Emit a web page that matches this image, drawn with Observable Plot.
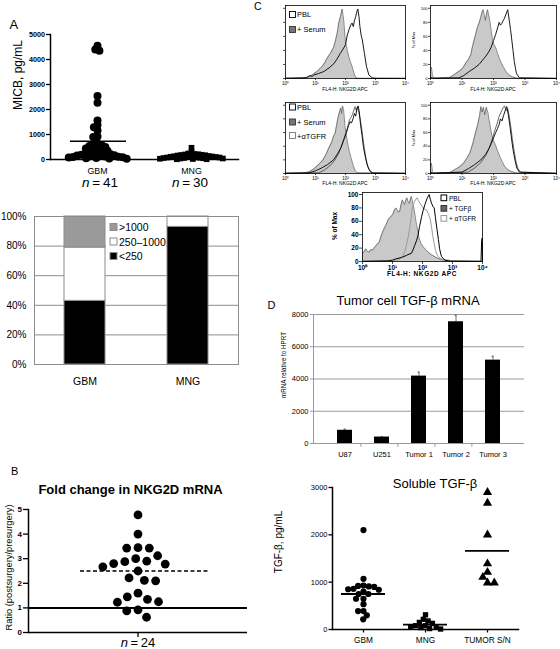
<!DOCTYPE html>
<html><head><meta charset="utf-8">
<script src="https://cdn.jsdelivr.net/npm/d3@7"></script>
<script src="https://cdn.jsdelivr.net/npm/@observablehq/plot@0.6"></script>
<style>
html,body{margin:0;padding:0;background:#fff;}
#fig{position:relative;width:560px;height:649px;overflow:hidden;background:#fff;}
</style></head><body><div id="fig"></div>
<script>
// ---------------- DATA ----------------
// Panel A (top): serum MICB
const micbGroups = ["GBM", "MNG"];
const micbGBM = [4548, 4400, 4348, 2540, 2274, 1556, 1383, 1290, 1157, 920, 900, 640, 610, 580, 540, 500, 470, 440, 410, 380, 350, 320, 290, 270, 230, 220, 200, 190, 170, 160, 150, 130, 120, 110, 100, 90, 80, 60, 50, 40, 30];
const micbMNG = [470, 300, 240, 220, 210, 200, 190, 180, 170, 160, 150, 140, 130, 120, 110, 100, 100, 90, 80, 80, 70, 60, 60, 50, 40, 40, 30, 20, 10, 10];
const micbMeans = [730, 130];
const micbTicks = [0, 1000, 2000, 3000, 4000, 5000];
const micbN = ["41", "30"];

// Panel A (bottom): stacked percentages
const stackGroups = ["GBM", "MNG"];
const stackCats = ["<250", "250\u20131000", ">1000"];
const stackGBM = [43, 36, 21];
const stackMNG = [93, 7, 0];
const stackTicks = [0, 20, 40, 60, 80, 100];

// Panel B: fold change ratios
const ratioValues = [4.78, 4.0, 3.45, 3.43, 3.43, 3.12, 3.0, 2.9, 2.88, 2.8, 2.78, 2.67, 2.5, 2.22, 2.12, 2.1, 1.6, 1.45, 1.35, 1.25, 1.23, 0.92, 0.88, 0.62];
const ratioMean = 2.5;
const ratioRef = 1;
const ratioTicks = [0, 1, 2, 3, 4, 5];

// Panel C: flow histograms, [log10 NKG2D, % of max]
const c1Serum = [[0,0.5],[0.6,0.8],[0.75,2],[0.85,4],[0.95,7],[1.05,10],[1.15,14],[1.22,17],[1.3,22],[1.39,29],[1.45,33],[1.5,36],[1.56,41],[1.61,45],[1.67,55],[1.72,64],[1.78,80],[1.83,88],[1.89,99],[1.94,83],[2.0,50],[2.03,47],[2.06,40],[2.11,31],[2.17,23],[2.22,17],[2.28,8],[2.33,2],[2.4,0.3],[4,0]];
const c1PBL = [[0,0.3],[0.7,1],[0.8,4],[0.9,3],[0.94,5],[1.1,7],[1.28,10],[1.45,15],[1.61,21],[1.72,28],[1.83,36],[1.92,42],[2.0,48],[2.06,62],[2.12,70],[2.17,76],[2.22,79],[2.26,74],[2.3,83],[2.34,88],[2.37,94],[2.41,99],[2.45,88],[2.48,74],[2.52,62],[2.56,55],[2.63,36],[2.7,17],[2.78,5],[2.89,1],[3.0,0.3],[4,0.3]];
const c2Serum = [[0,14],[0.03,16],[0.06,4],[0.1,0.5],[0.59,1],[0.7,4],[0.8,7],[0.96,12],[1.04,16],[1.12,22],[1.2,27],[1.28,34],[1.33,45],[1.38,54],[1.44,64],[1.49,73],[1.55,80],[1.6,88],[1.64,95],[1.67,98],[1.71,90],[1.74,83],[1.78,92],[1.81,98],[1.85,90],[1.88,83],[1.92,70],[1.97,54],[2.02,48],[2.07,44],[2.12,37],[2.18,29],[2.24,23],[2.31,17],[2.38,11],[2.45,7],[2.53,4],[2.61,2],[2.77,0.3],[4,0]];
const c2PBL = [[0,2],[0.05,0.5],[0.9,1],[1.05,4],[1.23,10],[1.4,15],[1.54,20],[1.65,26],[1.76,32],[1.85,38],[1.92,44],[2.0,54],[2.07,63],[2.13,72],[2.18,80],[2.22,76],[2.26,78],[2.3,82],[2.34,85],[2.4,92],[2.45,98],[2.5,83],[2.54,70],[2.57,59],[2.62,40],[2.66,24],[2.7,14],[2.73,7],[2.82,1],[4,0.3]];
const c3Serum = [[0,0.5],[0.6,0.8],[0.75,2],[0.85,4],[0.95,7],[1.05,11],[1.15,15],[1.25,20],[1.35,28],[1.45,38],[1.55,47],[1.6,55],[1.65,58],[1.7,70],[1.75,82],[1.8,90],[1.84,96],[1.87,88],[1.9,99],[1.94,92],[1.98,70],[2.03,55],[2.08,42],[2.13,32],[2.19,22],[2.25,13],[2.31,5],[2.38,1],[4,0]];
const c3PBL = [[0,0.3],[0.8,1],[1.0,4],[1.2,8],[1.4,13],[1.6,20],[1.75,30],[1.85,38],[1.95,50],[2.03,60],[2.1,70],[2.15,76],[2.2,74],[2.25,80],[2.3,88],[2.34,84],[2.38,95],[2.42,99],[2.46,90],[2.5,72],[2.55,56],[2.6,38],[2.67,22],[2.74,10],[2.82,3],[2.92,0.5],[4,0.3]];
const c3TGFR = [[0,0.3],[1.1,1],[1.3,5],[1.5,12],[1.65,20],[1.78,30],[1.88,42],[1.98,55],[2.06,66],[2.13,78],[2.18,82],[2.23,86],[2.28,93],[2.32,98],[2.36,92],[2.4,97],[2.44,90],[2.49,80],[2.54,66],[2.6,45],[2.66,28],[2.72,14],[2.8,5],[2.9,1],[4,0.3]];
const c4Serum = [[0,12],[0.03,15],[0.06,3],[0.1,0.5],[0.6,1],[0.75,5],[0.9,9],[1.05,15],[1.15,22],[1.25,30],[1.35,45],[1.42,58],[1.5,72],[1.56,85],[1.6,98],[1.64,90],[1.68,97],[1.72,86],[1.77,97],[1.82,90],[1.86,78],[1.9,68],[1.95,55],[2.0,48],[2.06,42],[2.12,34],[2.2,25],[2.28,17],[2.36,10],[2.45,6],[2.55,3],[2.7,1],[2.85,0.3],[4,0]];
const c4PBL = [[0,2],[0.05,0.5],[1.0,2],[1.2,7],[1.4,13],[1.6,20],[1.75,28],[1.85,36],[1.93,44],[2.0,52],[2.07,60],[2.13,66],[2.18,72],[2.22,80],[2.27,77],[2.32,85],[2.37,92],[2.42,98],[2.47,86],[2.52,70],[2.57,52],[2.62,35],[2.68,20],[2.74,8],[2.82,2],[4,0.3]];
const c4TGFR = [[0,1],[0.05,0.3],[1.2,2],[1.4,8],[1.6,16],[1.75,26],[1.87,38],[1.97,52],[2.05,64],[2.12,74],[2.18,84],[2.24,90],[2.3,96],[2.35,99],[2.4,92],[2.45,95],[2.5,84],[2.55,68],[2.6,50],[2.66,32],[2.72,16],[2.78,7],[2.86,2],[4,0.3]];
const c5TGFb = [[0,12],[0.05,14],[0.11,19],[0.16,15],[0.22,14],[0.28,18],[0.34,17],[0.4,21],[0.45,24],[0.5,26],[0.56,29],[0.62,38],[0.67,44],[0.73,50],[0.79,55],[0.85,62],[0.9,65],[0.96,68],[1.01,70],[1.06,77],[1.12,80],[1.18,74],[1.24,75],[1.29,86],[1.33,92],[1.37,87],[1.4,85],[1.44,91],[1.48,95],[1.53,88],[1.57,87],[1.6,94],[1.63,97],[1.67,88],[1.71,80],[1.76,66],[1.8,55],[1.85,44],[1.89,34],[1.95,27],[2.02,22],[2.1,18],[2.19,14],[2.3,10],[2.42,7],[2.55,4],[2.7,2],[3.03,0.5],[4,0]];
const c5TGFR = [[0,0.3],[1.0,0.5],[1.12,1],[1.25,4],[1.35,9],[1.41,15],[1.46,24],[1.52,36],[1.57,49],[1.62,65],[1.66,80],[1.7,86],[1.74,90],[1.78,93],[1.82,95],[1.86,91],[1.91,87],[1.96,84],[2.02,80],[2.08,78],[2.13,77],[2.19,72],[2.25,65],[2.3,52],[2.34,39],[2.39,27],[2.43,17],[2.48,11],[2.53,7],[2.62,4],[2.7,3],[3.03,1],[4,0.3]];
const c5PBL = [[0,0.3],[0.84,1],[1.0,2],[1.12,4],[1.3,6],[1.46,9],[1.55,11],[1.63,12],[1.68,17],[1.74,24],[1.8,31],[1.85,39],[1.9,52],[1.97,67],[2.02,76],[2.08,85],[2.12,90],[2.16,95],[2.2,98],[2.22,100],[2.26,93],[2.3,87],[2.35,82],[2.39,80],[2.43,66],[2.48,49],[2.53,33],[2.57,19],[2.61,11],[2.64,7],[2.75,2],[2.9,0.5],[3.95,0.3],[3.97,30],[3.99,35],[4,0]];
const flowTicks = [0, 1, 2, 3, 4];
const pctTicks = [0, 20, 40, 60, 80, 100];

// Panel D: tumor cell TGF-beta mRNA
const mrnaCats = ["U87", "U251", "Tumor 1", "Tumor 2", "Tumor 3"];
const mrnaVals = [820, 400, 4180, 7550, 5170];
const mrnaErr = [890, 430, 4430, 7950, 5410];
const mrnaTicks = [0, 2000, 4000, 6000, 8000];

// Soluble TGF-beta
const tgfGroups = ["GBM", "MNG", "TUMOR S/N"];
const tgfGBM = [2100, 1070, 930, 920, 910, 900, 860, 850, 840, 800, 750, 750, 650, 650, 535, 390, 390, 300, 215];
const tgfMNG = [310, 215, 180, 150, 130, 80, 80, 60, 60, 40, 20, 10];
const tgfTumor = [2900, 2670, 2000, 1390, 1210, 1105, 985, 985];
const tgfMeans = [750, 105, 1660];
const tgfTicks = [0, 1000, 2000, 3000];

// ---------------- HELPERS ----------------
const FONT = '"Liberation Sans", Arial, Helvetica, sans-serif';
const fig = document.getElementById("fig");
const baseStyle = {fontFamily: FONT, background: "none", overflow: "visible", color: "#000"};
const plain = d => String(d);
function place(make, left, top) {
  try {
    const el = make();
    el.style.position = "absolute";
    el.style.left = left + "px";
    el.style.top = top + "px";
    fig.appendChild(el);
  } catch (e) { console.error(e); }
}

// ---------------- PANEL A top ----------------
const micbData = [
  ...micbGBM.map(v => ({g: "GBM", v})),
  ...micbMNG.map(v => ({g: "MNG", v}))
];
const micbMeanData = micbGroups.map((g, i) => ({g, v: micbMeans[i]}));
place(() => Plot.plot({
  width: 240, height: 178, marginLeft: 50, marginRight: 2, marginTop: 34, marginBottom: 19,
  style: baseStyle,
  fx: {domain: micbGroups, padding: 0},
  y: {domain: [0, 5000]},
  marks: [
    Plot.frame({anchor: "left", facet: "super", strokeWidth: 1.5}),
    Plot.frame({anchor: "bottom", facet: "super", strokeWidth: 1.5}),
    Plot.axisY({ticks: micbTicks, tickFormat: plain, tickSize: 4, tickPadding: 1.5, fontSize: 7.2, fontWeight: "bold", label: null, strokeWidth: 1.3}),
    Plot.axisFx({anchor: "bottom", tickSize: 0, tickPadding: 8, fontSize: 8.8, label: null}),
    Plot.dot(micbData.filter(d => d.g === "GBM"), Plot.dodgeX({anchor: "middle", padding: -3.7}, {fx: "g", y: "v", r: 4, fill: "#000"})),
    Plot.dot(micbData.filter(d => d.g === "MNG"), Plot.dodgeX({anchor: "middle", padding: -2.8}, {fx: "g", y: "v", r: 3.2, symbol: "square", fill: "#000"})),
    Plot.tickY(micbMeanData, {fx: "g", y: "v", strokeWidth: 1.6, insetLeft: 20, insetRight: 18})
  ]
}), 0, 0);

// ---------------- PANEL A bottom ----------------
const stackData = [];
stackCats.forEach((c, i) => {
  if (stackGBM[i] > 0) stackData.push({g: "GBM", c, v: stackGBM[i]});
  if (stackMNG[i] > 0) stackData.push({g: "MNG", c, v: stackMNG[i]});
});
place(() => Plot.plot({
  width: 242, height: 190, marginLeft: 34, marginRight: 4, marginTop: 16, marginBottom: 26,
  style: baseStyle,
  x: {domain: stackGroups, paddingInner: 0.6, paddingOuter: 0.29},
  y: {domain: [0, 100]},
  color: {domain: stackCats, range: ["#000000", "#ffffff", "#9a9a9a"]},
  marks: [
    Plot.gridY(stackTicks.slice(1), {stroke: "#8c8c8c", strokeOpacity: 1}),
    Plot.barY(stackData, {x: "g", y: "v", fill: "c", stroke: "#8c8c8c", strokeWidth: 1, order: stackCats}),
    Plot.frame({stroke: "#8c8c8c"}),
    Plot.axisY({ticks: stackTicks, tickFormat: d => d + "%", tickSize: 0, tickPadding: 8, fontSize: 10, label: null}),
    Plot.axisX({tickSize: 0, tickPadding: 13, fontSize: 10.5, label: null})
  ]
}), 0, 200);

// ---------------- PANEL B ----------------
place(() => Plot.plot({
  width: 250, height: 142, marginLeft: 28, marginRight: 3, marginTop: 9, marginBottom: 10,
  style: baseStyle,
  x: {domain: [-1, 1], axis: null},
  y: {domain: [0, 5]},
  marks: [
    Plot.ruleY([0], {strokeWidth: 1.5}),
    Plot.frame({anchor: "left", strokeWidth: 1.5}),
    Plot.ruleX([0], {x: d => d, y1: 0, y2: -0.2, strokeWidth: 1.3}),
    Plot.axisY({ticks: ratioTicks, tickFormat: plain, tickSize: 5, tickPadding: 1.5, fontSize: 8, fontWeight: "bold", label: null, strokeWidth: 1.3}),
    Plot.ruleY([ratioRef], {strokeWidth: 2}),
    Plot.tickY([ratioMean], {y: d => d, strokeDasharray: "4,2.5", strokeWidth: 1.5, insetLeft: 52, insetRight: 38}),
    Plot.dot(ratioValues, Plot.dodgeX({anchor: "middle", padding: 2.5}, {y: d => d, r: 4.4, fill: "#000"}))
  ]
}), 0, 500);

// ---------------- PANEL C (flow) ----------------
const sup = ["\u2070", "\u00b9", "\u00b2", "\u00b3", "\u2074"];
function flow(cfg) {
  const X = d => d[0], Y = d => d[1];
  const marks = [];
  marks.push(Plot.areaY(cfg.fill, {x: X, y: Y, fill: "#c9c9c9"}));
  marks.push(Plot.lineY(cfg.fill, {x: X, y: Y, stroke: "#555", strokeWidth: 0.7}));
  for (const l of cfg.lines) marks.push(Plot.lineY(l.pts, {x: X, y: Y, stroke: l.stroke, strokeWidth: l.w}));
  marks.push(Plot.frame({stroke: "#000", strokeWidth: 0.8}));
  marks.push(Plot.axisX({ticks: flowTicks, tickFormat: d => "10" + sup[d], tickSize: cfg.ts, tickPadding: 1, fontSize: cfg.xfs, fontWeight: cfg.bold ? "bold" : "normal", label: null, strokeWidth: 0.7}));
  marks.push(Plot.axisY({ticks: pctTicks, tickFormat: cfg.ylab ? plain : (() => ""), tickSize: cfg.ts, tickPadding: 1, fontSize: cfg.yfs, fontWeight: cfg.bold ? "bold" : "normal", label: null, strokeWidth: 0.7}));
  return Plot.plot({
    width: cfg.w, height: cfg.h, marginLeft: cfg.ml, marginRight: cfg.mr, marginTop: cfg.mt, marginBottom: cfg.mb,
    style: baseStyle,
    x: {domain: [0, 4]},
    y: {domain: [0, cfg.ymax]},
    marks
  });
}
place(() => flow({w: 128, h: 95, ml: 5, mr: 3, mt: 5, mb: 17, ymax: 104, ts: 2, xfs: 4.5, yfs: 4, ylab: false,
  fill: c1Serum, lines: [{pts: c1PBL, stroke: "#000", w: 0.9}]}), 280, 0);
place(() => flow({w: 155, h: 95, ml: 25, mr: 4, mt: 5, mb: 17, ymax: 104, ts: 2, xfs: 4.5, yfs: 4, ylab: true,
  fill: c2Serum, lines: [{pts: c2PBL, stroke: "#000", w: 0.9}]}), 405, 0);
place(() => flow({w: 128, h: 93, ml: 5, mr: 3, mt: 5, mb: 17, ymax: 104, ts: 2, xfs: 4.5, yfs: 4, ylab: false,
  fill: c3Serum, lines: [{pts: c3TGFR, stroke: "#444", w: 0.8}, {pts: c3PBL, stroke: "#000", w: 0.9}]}), 280, 97);
place(() => flow({w: 155, h: 93, ml: 25, mr: 4, mt: 5, mb: 17, ymax: 104, ts: 2, xfs: 4.5, yfs: 4, ylab: true,
  fill: c4Serum, lines: [{pts: c4TGFR, stroke: "#444", w: 0.8}, {pts: c4PBL, stroke: "#000", w: 0.9}]}), 405, 97);
place(() => flow({w: 155, h: 96, ml: 32, mr: 3, mt: 7, mb: 20, ymax: 103, ts: 3, xfs: 6.5, yfs: 6.5, ylab: true, bold: true,
  fill: c5TGFb, lines: [{pts: c5TGFR, stroke: "#9a9a9a", w: 1}, {pts: c5PBL, stroke: "#000", w: 1}]}), 330, 185);

// ---------------- PANEL D ----------------
const mrnaData = mrnaCats.map((c, i) => ({c, v: mrnaVals[i], e: mrnaErr[i]}));
place(() => Plot.plot({
  width: 250, height: 159, marginLeft: 33, marginRight: 6, marginTop: 6, marginBottom: 24,
  style: baseStyle,
  x: {domain: mrnaCats, padding: 0.6},
  y: {domain: [0, 8000]},
  marks: [
    Plot.gridY(mrnaTicks.slice(1), {stroke: "#9a9a9a", strokeOpacity: 1}),
    Plot.ruleY([0], {stroke: "#9a9a9a"}),
    Plot.ruleX(mrnaCats.slice(1), {x: d => d, dx: -21.1, y1: 0, y2: -230, stroke: "#9a9a9a"}),
    Plot.frame({anchor: "left", stroke: "#9a9a9a"}),
    Plot.ruleX(mrnaData, {x: "c", y1: "v", y2: "e", stroke: "#444", strokeWidth: 0.8}),
    Plot.tickY(mrnaData, {x: "c", y: "e", stroke: "#444", strokeWidth: 0.8, insetLeft: 6.5, insetRight: 6.5}),
    Plot.barY(mrnaData, {x: "c", y: "v", fill: "#000"}),
    Plot.axisY({ticks: mrnaTicks, tickFormat: plain, tickSize: 3, tickPadding: 2, fontSize: 7.5, label: null, stroke: "#9a9a9a"}),
    Plot.axisX({tickSize: 0, tickPadding: 8, fontSize: 7.5, label: null})
  ]
}), 280, 308);

// ---------------- SOLUBLE TGF-beta ----------------
const tgfData = [
  ...tgfGBM.map(v => ({g: "GBM", v})),
  ...tgfMNG.map(v => ({g: "MNG", v})),
  ...tgfTumor.map(v => ({g: "TUMOR S/N", v}))
];
const tgfMeanData = tgfGroups.map((g, i) => ({g, v: tgfMeans[i]}));
place(() => Plot.plot({
  width: 265, height: 179, marginLeft: 39, marginRight: 5, marginTop: 17, marginBottom: 20,
  style: baseStyle,
  fx: {domain: tgfGroups, paddingInner: 0, paddingOuter: 0.27, align: 0.38},
  y: {domain: [0, 3000]},
  marks: [
    Plot.frame({anchor: "left", facet: "super", strokeWidth: 1.5}),
    Plot.frame({anchor: "bottom", facet: "super", strokeWidth: 1.5}),
    Plot.axisY({ticks: tgfTicks, tickFormat: plain, tickSize: 3.5, tickPadding: 1.5, fontSize: 7.5, label: null, strokeWidth: 1.3}),
    Plot.axisFx({anchor: "bottom", tickSize: 3.5, tickPadding: 4.5, fontSize: 8.3, label: null, strokeWidth: 1.3}),
    Plot.dot(tgfData.filter(d => d.g === "GBM"), Plot.dodgeX({anchor: "middle", padding: -0.8}, {fx: "g", y: "v", r: 3.1, fill: "#000"})),
    Plot.dot(tgfData.filter(d => d.g === "MNG"), Plot.dodgeX({anchor: "middle", padding: -1}, {fx: "g", y: "v", r: 3, symbol: "square", fill: "#000"})),
    Plot.dot(tgfData.filter(d => d.g === "TUMOR S/N"), Plot.dodgeX({anchor: "middle", padding: 0}, {fx: "g", y: "v", r: 3.4, symbol: "triangle", fill: "#000"})),
    Plot.tickY(tgfMeanData, {fx: "g", y: "v", strokeWidth: 1.8, insetLeft: 9, insetRight: 9})
  ]
}), 280, 470);

// ---------------- TEXT OVERLAY ----------------
const ov = d3.create("svg").attr("width", 560).attr("height", 649)
  .style("position", "absolute").style("left", "0px").style("top", "0px")
  .style("font-family", FONT).style("overflow", "visible");
function T(x, y, str, o = {}) {
  const t = ov.append("text")
    .attr("transform", `translate(${x},${y})` + (o.rot ? ` rotate(${o.rot})` : ""))
    .attr("font-size", o.size || 10)
    .attr("text-anchor", o.anchor || "start")
    .attr("fill", o.fill || "#000");
  if (o.weight) t.attr("font-weight", o.weight);
  if (o.ls) t.attr("letter-spacing", o.ls);
  if (str !== null) t.text(str);
  return t;
}
function nText(x, y, n, size) {
  const t = T(x, y, null, {size: size || 13.5, anchor: "middle"});
  t.append("tspan").attr("font-style", "italic").text("n");
  t.append("tspan").text("\u2009=\u2009" + n);
}
function swatch(x, y, s, fill, stroke, sw) {
  ov.append("rect").attr("x", x).attr("y", y).attr("width", s).attr("height", s)
    .attr("fill", fill).attr("stroke", stroke).attr("stroke-width", sw || 0.8);
}
// Panel A
T(9.5, 28.5, "A", {size: 13});
T(21.5, 75, "MICB, pg/mL", {size: 12, rot: -90, anchor: "middle"});
nText(100, 187, micbN[0]);
nText(190, 187, micbN[1]);
// stacked legend
ov.append("rect").attr("x", 106).attr("y", 220).attr("width", 60).attr("height", 42).attr("fill", "#fff");
const legFills = ["#9a9a9a", "#ffffff", "#000000"];
const legLabels = [stackCats[2], stackCats[1], stackCats[0]];
[231, 245.5, 260].forEach((yb, i) => {
  swatch(110, yb - 7.5, 7, legFills[i], "#8c8c8c", 1);
  T(119, yb, legLabels[i], {size: 10.5});
});
// Panel B
T(11, 474.5, "B", {size: 11});
T(130.5, 494, "Fold change in NKG2D mRNA", {size: 13, weight: "bold", anchor: "middle"});
T(12, 567.5, "Ratio (postsurgery/presurgery)", {size: 9.3, rot: -90, anchor: "middle"});
nText(138, 647, String(ratioValues.length), 13);
// Panel C
T(254, 10, "C", {size: 10.5});
swatch(289.5, 11.5, 6, "#fff", "#000", 0.9); T(297, 17.3, "PBL", {size: 7.5});
swatch(289.5, 26.5, 6, "#777", "#333", 0.9); T(297, 32.3, "+ Serum", {size: 7.5});
swatch(289.5, 104, 6, "#fff", "#000", 0.9); T(297, 110, "PBL", {size: 7.5});
swatch(289.5, 119, 6, "#777", "#333", 0.9); T(297, 125, "+ Serum", {size: 7.5});
swatch(289.5, 132.5, 6, "#fff", "#777", 0.9); T(297, 138.5, "+\u03b1TGFR", {size: 7.5});
swatch(441, 195, 5.7, "#fff", "#000", 1); T(449, 200.5, "PBL", {size: 6.5});
swatch(441, 205.5, 5.7, "#666", "#333", 1); T(449, 211, "+ TGF\u03b2", {size: 6.5});
swatch(441, 215.5, 5.7, "#fff", "#999", 1); T(449, 221, "+ \u03b1TGFR", {size: 6.5});
T(345, 90.5, "FL4-H: NKG2D APC", {size: 5, anchor: "middle"});
T(493, 90.5, "FL4-H: NKG2D APC", {size: 5, anchor: "middle"});
T(345, 184.5, "FL4-H: NKG2D APC", {size: 5, anchor: "middle"});
T(493, 184.5, "FL4-H: NKG2D APC", {size: 5, anchor: "middle"});
T(422, 276, "FL4-H: NKG2D APC", {size: 6.5, weight: "bold", anchor: "middle", ls: 0.6});
T(415, 40, "% of Max", {size: 4, rot: -90, anchor: "middle"});
T(415, 138, "% of Max", {size: 4, rot: -90, anchor: "middle"});
T(337, 226, "% of Max", {size: 6.5, weight: "bold", rot: -90, anchor: "middle"});
// Panel D
T(267.5, 308.5, "D", {size: 11});
T(408, 305, "Tumor cell TGF-\u03b2 mRNA", {size: 13, anchor: "middle"});
T(285.5, 365, "mRNA relative to HPRT", {size: 6.3, rot: -90, anchor: "middle"});
// Soluble
T(435, 487.5, "Soluble TGF-\u03b2", {size: 13, anchor: "middle"});
T(281.5, 542, "TGF-\u03b2, pg/mL", {size: 10, rot: -90, anchor: "middle"});

fig.appendChild(ov.node());
</script></body></html>
